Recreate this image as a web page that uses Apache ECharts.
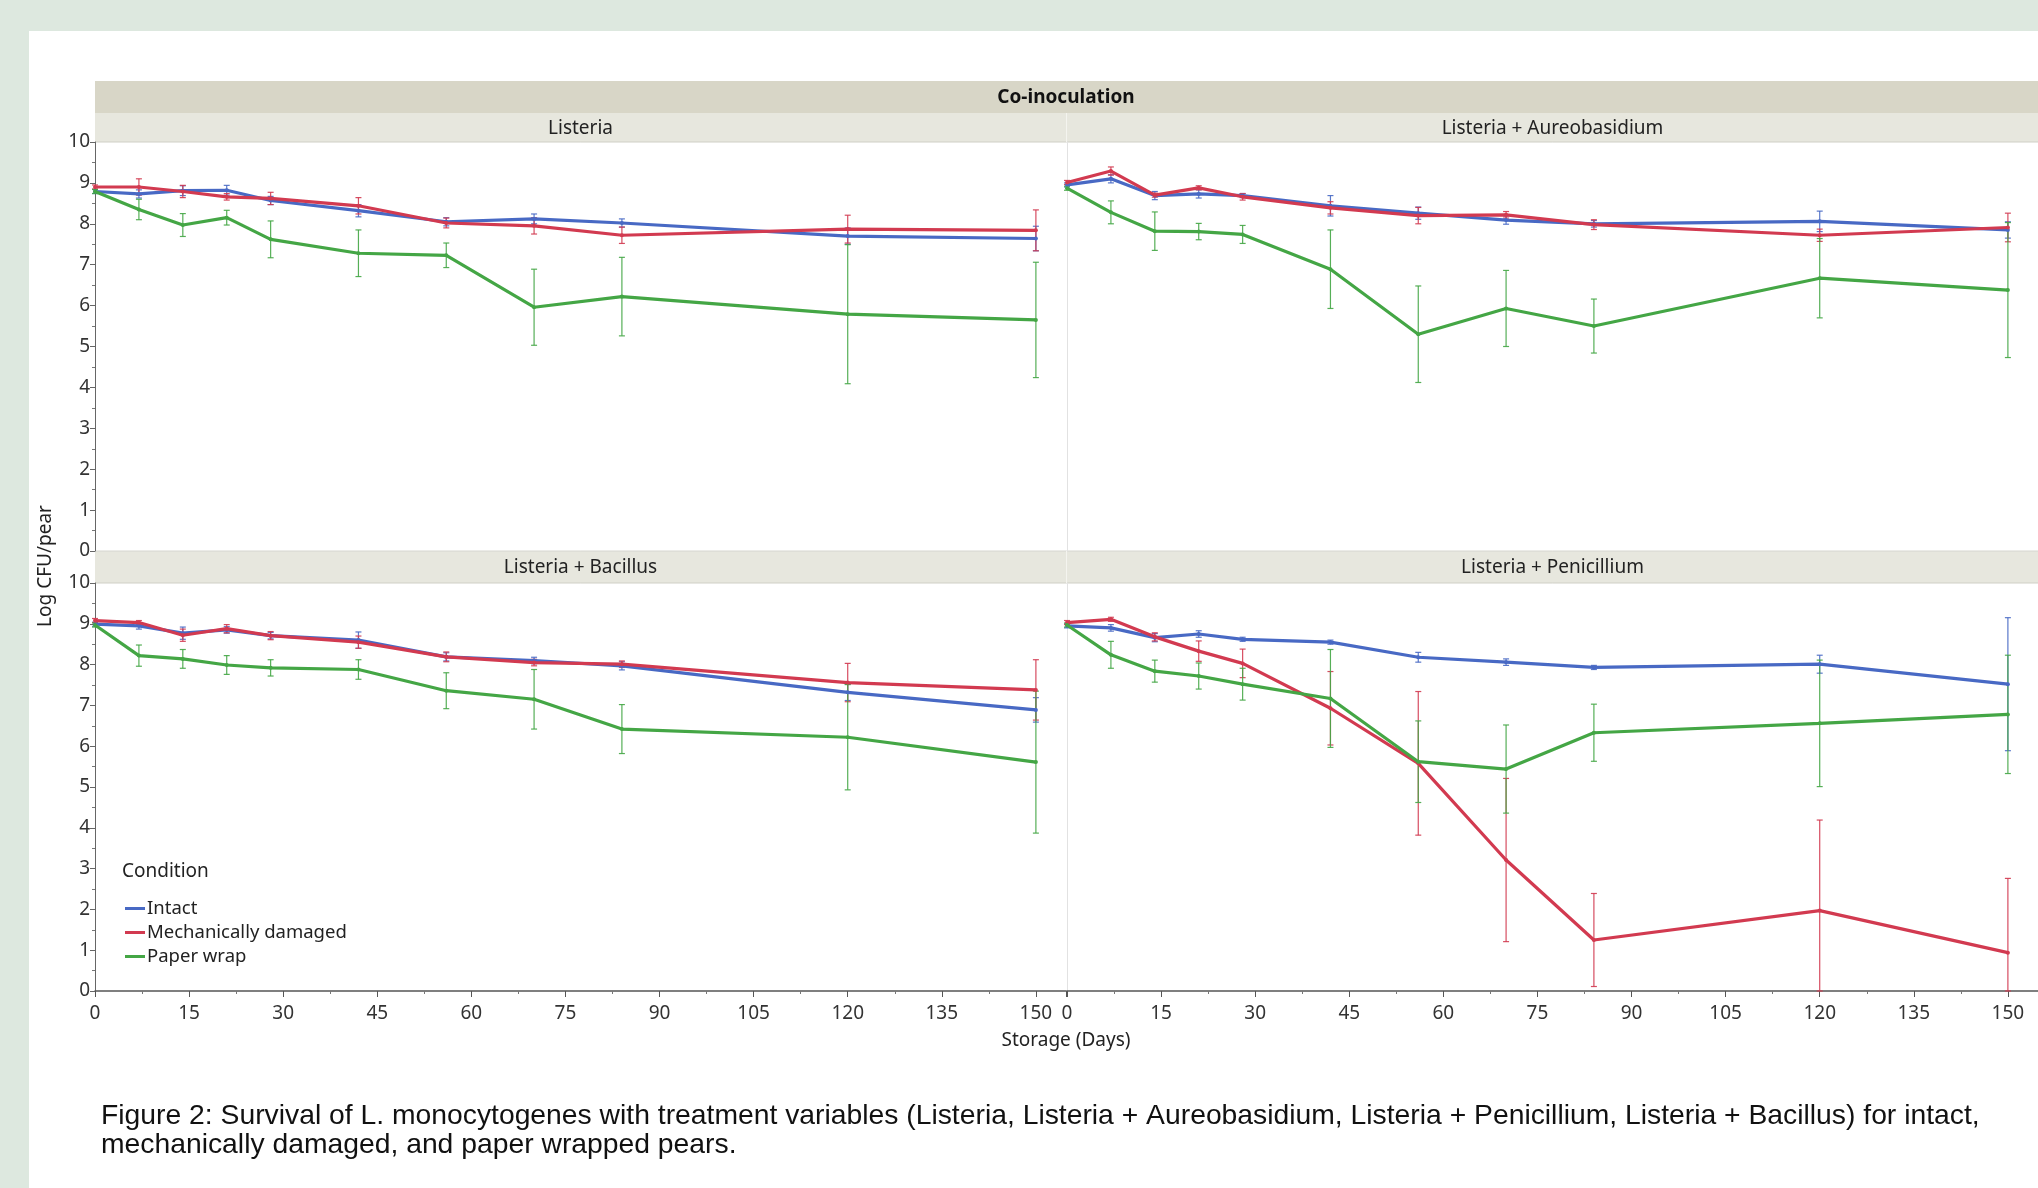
<!DOCTYPE html>
<html>
<head>
<meta charset="utf-8">
<script src="https://cdn.jsdelivr.net/npm/echarts@6/dist/echarts.min.js"></script>
<style>
html,body{margin:0;padding:0;background:#dde8df;}
#chart{width:2038px;height:1188px;}
</style>
</head>
<body>
<div id="chart"></div>
<script>
// ---------------- DATA ----------------
const days = [0, 7, 14, 21, 28, 42, 56, 70, 84, 120, 150];
const conditions = ['Intact', 'Mechanically damaged', 'Paper wrap'];
const panelTitles = ['Listeria', 'Listeria + Aureobasidium', 'Listeria + Bacillus', 'Listeria + Penicillium'];
const headerTitle = 'Co-inoculation';
const yAxisTitle = 'Log CFU/pear';
const xAxisTitle = 'Storage (Days)';
const legendTitle = 'Condition';
const captionLines = [
  'Figure 2: Survival of L. monocytogenes with treatment variables (Listeria, Listeria + Aureobasidium, Listeria + Penicillium, Listeria + Bacillus) for intact,',
  'mechanically damaged, and paper wrapped pears.'
];

// Listeria
const listeriaIntact     = [8.79, 8.73, 8.81, 8.82, 8.57, 8.32, 8.05, 8.12, 8.02, 7.70, 7.64];
const listeriaIntactErr  = [0.05, 0.10, 0.12, 0.12, 0.10, 0.15, 0.10, 0.12, 0.10, 0.20, 0.30];
const listeriaDamaged    = [8.90, 8.90, 8.79, 8.66, 8.62, 8.44, 8.02, 7.95, 7.72, 7.87, 7.84];
const listeriaDamagedErr = [0.05, 0.20, 0.15, 0.08, 0.15, 0.20, 0.12, 0.20, 0.20, 0.34, 0.50];
const listeriaPaper      = [8.79, 8.35, 7.97, 8.15, 7.62, 7.28, 7.23, 5.96, 6.22, 5.79, 5.65];
const listeriaPaperErr   = [0.05, 0.25, 0.28, 0.18, 0.45, 0.57, 0.30, 0.93, 0.96, 1.70, 1.41];

// Listeria + Aureobasidium
const aureoIntact     = [8.95, 9.10, 8.69, 8.73, 8.69, 8.44, 8.26, 8.09, 8.00, 8.06, 7.85];
const aureoIntactErr  = [0.05, 0.10, 0.10, 0.10, 0.05, 0.25, 0.15, 0.10, 0.08, 0.25, 0.20];
const aureoDamaged    = [9.01, 9.29, 8.70, 8.88, 8.66, 8.39, 8.20, 8.22, 7.98, 7.72, 7.91];
const aureoDamagedErr = [0.05, 0.10, 0.05, 0.05, 0.08, 0.15, 0.20, 0.08, 0.12, 0.15, 0.35];
const aureoPaper      = [8.87, 8.28, 7.82, 7.81, 7.74, 6.89, 5.30, 5.93, 5.50, 6.67, 6.38];
const aureoPaperErr   = [0.05, 0.28, 0.47, 0.20, 0.22, 0.96, 1.18, 0.93, 0.66, 0.97, 1.65];

// Listeria + Bacillus
const bacillusIntact     = [8.99, 8.95, 8.77, 8.85, 8.71, 8.60, 8.19, 8.10, 7.97, 7.32, 6.89];
const bacillusIntactErr  = [0.05, 0.08, 0.15, 0.08, 0.08, 0.20, 0.10, 0.08, 0.10, 0.20, 0.30];
const bacillusDamaged    = [9.08, 9.03, 8.72, 8.88, 8.71, 8.55, 8.19, 8.05, 8.01, 7.56, 7.38];
const bacillusDamagedErr = [0.05, 0.05, 0.15, 0.10, 0.10, 0.15, 0.12, 0.08, 0.08, 0.47, 0.74];
const bacillusPaper      = [8.97, 8.22, 8.14, 7.99, 7.92, 7.88, 7.36, 7.15, 6.42, 6.22, 5.61];
const bacillusPaperErr   = [0.05, 0.26, 0.23, 0.23, 0.20, 0.24, 0.44, 0.73, 0.60, 1.29, 1.74];

// Listeria + Penicillium
const penIntact     = [8.95, 8.90, 8.66, 8.75, 8.62, 8.55, 8.18, 8.06, 7.93, 8.01, 7.52];
const penIntactErr  = [0.05, 0.08, 0.10, 0.08, 0.05, 0.05, 0.12, 0.08, 0.05, 0.22, 1.63];
const penDamaged    = [9.03, 9.11, 8.68, 8.33, 8.03, 6.93, 5.58, 3.21, 1.25, 1.97, 0.94];
const penDamagedErr = [0.05, 0.05, 0.10, 0.25, 0.35, 0.90, 1.76, 2.00, 1.14, 2.22, 1.82];
const penPaper      = [8.97, 8.24, 7.84, 7.72, 7.52, 7.17, 5.62, 5.44, 6.33, 6.56, 6.78];
const penPaperErr   = [0.05, 0.33, 0.27, 0.32, 0.39, 1.20, 1.00, 1.08, 0.70, 1.55, 1.45];

// ---------------- STYLE / LAYOUT ----------------
const colors = ['#4869c4', '#d23a50', '#44a645'];
const uiFont = 'Noto Sans';
const panelData = [
  [[listeriaIntact, listeriaIntactErr], [listeriaDamaged, listeriaDamagedErr], [listeriaPaper, listeriaPaperErr]],
  [[aureoIntact, aureoIntactErr], [aureoDamaged, aureoDamagedErr], [aureoPaper, aureoPaperErr]],
  [[bacillusIntact, bacillusIntactErr], [bacillusDamaged, bacillusDamagedErr], [bacillusPaper, bacillusPaperErr]],
  [[penIntact, penIntactErr], [penDamaged, penDamagedErr], [penPaper, penPaperErr]]
];
const L = 95, PW = 971, R0 = 1067;
const grids = [
  {left: L,  top: 142, width: PW, height: 409},
  {left: R0, top: 142, width: PW, height: 409},
  {left: L,  top: 583, width: PW, height: 408},
  {left: R0, top: 583, width: PW, height: 408}
];

function renderErrorBar(params, api) {
  const x = api.value(0), lo = api.value(1), hi = api.value(2);
  const p1 = api.coord([x, hi]);
  const p2 = api.coord([x, lo]);
  const cap = 3;
  const style = {stroke: api.visual('color'), lineWidth: 1.2, opacity: 0.9};
  return {type: 'group', children: [
    {type: 'line', shape: {x1: p1[0], y1: p1[1], x2: p2[0], y2: p2[1]}, style: style},
    {type: 'line', shape: {x1: p1[0] - cap, y1: p1[1], x2: p1[0] + cap, y2: p1[1]}, style: style},
    {type: 'line', shape: {x1: p2[0] - cap, y1: p2[1], x2: p2[0] + cap, y2: p2[1]}, style: style}
  ]};
}

const xAxes = grids.map((g, i) => {
  const bottom = i >= 2;
  return {
    type: 'value', gridIndex: i, min: 0, max: 154.8, interval: 15,
    axisLine: {show: bottom, onZero: false, lineStyle: {color: '#555', width: 1.5}},
    axisTick: {show: bottom, length: 6, lineStyle: {color: '#555'}},
    minorTick: {show: bottom, splitNumber: 2, length: 3, lineStyle: {color: '#777'}},
    axisLabel: {show: bottom, showMaxLabel: false, fontSize: 19, color: '#333', fontFamily: uiFont, margin: 13},
    splitLine: {show: false}
  };
});
const yAxes = grids.map((g, i) => {
  const leftSide = (i % 2 === 0);
  return {
    type: 'value', gridIndex: i, min: 0, max: 10, interval: 1,
    axisLine: {show: true, lineStyle: {color: leftSide ? '#666' : '#e2e2e2', width: 1}},
    axisTick: {show: leftSide, length: 5, lineStyle: {color: '#666'}},
    minorTick: {show: leftSide, splitNumber: 2, length: 3, lineStyle: {color: '#777'}},
    axisLabel: {show: leftSide, fontSize: 19, color: '#333', fontFamily: uiFont, margin: 5},
    splitLine: {show: false}
  };
});

const series = [];
panelData.forEach((panel, pi) => {
  panel.forEach((pair, ci) => {
    const vals = pair[0];
    series.push({
      type: 'line', name: conditions[ci], xAxisIndex: pi, yAxisIndex: pi,
      data: days.map((d, k) => [d, vals[k]]),
      symbol: 'circle', symbolSize: 4, showSymbol: true,
      lineStyle: {color: colors[ci], width: 3.2},
      itemStyle: {color: colors[ci]},
      z: 3 + ci, animation: false
    });
  });
  panel.forEach((pair, ci) => {
    const vals = pair[0], errs = pair[1];
    series.push({
      type: 'custom', name: conditions[ci], xAxisIndex: pi, yAxisIndex: pi,
      data: days.map((d, k) => [d, Math.max(0, vals[k] - errs[k]), vals[k] + errs[k]]),
      encode: {x: 0, y: [1, 2]},
      renderItem: renderErrorBar,
      itemStyle: {color: colors[ci]},
      z: 2, animation: false
    });
  });
});

const headerFill = '#d8d6c7', subFill = '#e7e7de';
const graphic = [
  {type: 'rect', shape: {x: 29, y: 31, width: 2009, height: 1157}, style: {fill: '#ffffff'}, z: -10},
  {type: 'rect', shape: {x: L, y: 81, width: 2038 - L, height: 32}, style: {fill: headerFill}, z: -5},
  {type: 'rect', shape: {x: L, y: 113, width: 2038 - L, height: 29}, style: {fill: subFill}, z: -5},
  {type: 'rect', shape: {x: L, y: 551, width: 2038 - L, height: 32}, style: {fill: subFill}, z: -5},
  {type: 'line', shape: {x1: L, y1: 142, x2: 2038, y2: 142}, style: {stroke: '#cfcfc6', lineWidth: 1}, z: -4},
  {type: 'line', shape: {x1: L, y1: 583, x2: 2038, y2: 583}, style: {stroke: '#cfcfc6', lineWidth: 1}, z: -4},
  {type: 'line', shape: {x1: L, y1: 551, x2: 2038, y2: 551}, style: {stroke: '#d6d6cf', lineWidth: 1}, z: -4},
  {type: 'line', shape: {x1: 1066.5, y1: 113, x2: 1066.5, y2: 142}, style: {stroke: '#f4f4ef', lineWidth: 1}, z: -4},
  {type: 'line', shape: {x1: 1066.5, y1: 551, x2: 1066.5, y2: 583}, style: {stroke: '#f4f4ef', lineWidth: 1}, z: -4},
  {type: 'text', x: 1066, y: 98, style: {text: headerTitle, font: 'bold 19px "Noto Sans"', fill: '#111', textAlign: 'center', textVerticalAlign: 'middle'}},
  {type: 'text', x: L + PW / 2, y: 129, style: {text: panelTitles[0], font: '19px "Noto Sans"', fill: '#222', textAlign: 'center', textVerticalAlign: 'middle'}},
  {type: 'text', x: R0 + PW / 2, y: 129, style: {text: panelTitles[1], font: '19px "Noto Sans"', fill: '#222', textAlign: 'center', textVerticalAlign: 'middle'}},
  {type: 'text', x: L + PW / 2, y: 568, style: {text: panelTitles[2], font: '19px "Noto Sans"', fill: '#222', textAlign: 'center', textVerticalAlign: 'middle'}},
  {type: 'text', x: R0 + PW / 2, y: 568, style: {text: panelTitles[3], font: '19px "Noto Sans"', fill: '#222', textAlign: 'center', textVerticalAlign: 'middle'}},
  {type: 'text', x: 46, y: 566, rotation: Math.PI / 2, style: {text: yAxisTitle, font: '19px "Noto Sans"', fill: '#222', textAlign: 'center', textVerticalAlign: 'middle'}},
  {type: 'text', x: 1066, y: 1041, style: {text: xAxisTitle, font: '19px "Noto Sans"', fill: '#222', textAlign: 'center', textVerticalAlign: 'middle'}},
  {type: 'text', x: 122, y: 872, style: {text: legendTitle, font: '19px "Noto Sans"', fill: '#222', textAlign: 'left', textVerticalAlign: 'middle'}},
  {type: 'text', x: 101, y: 1116, style: {text: captionLines[0], font: '28.3px "Liberation Sans"', fill: '#111', textAlign: 'left', textVerticalAlign: 'middle'}},
  {type: 'text', x: 101, y: 1145, style: {text: captionLines[1], font: '28.3px "Liberation Sans"', fill: '#111', textAlign: 'left', textVerticalAlign: 'middle'}}
];

const chart = echarts.init(document.getElementById('chart'), null, {renderer: 'canvas'});
chart.setOption({
  backgroundColor: '#dde8df',
  animation: false,
  grid: grids,
  xAxis: xAxes,
  yAxis: yAxes,
  legend: {
    data: conditions, orient: 'vertical', left: 120, top: 894,
    icon: 'rect', itemWidth: 20, itemHeight: 3, itemGap: 5,
    textStyle: {fontSize: 18.5, color: '#222', fontFamily: uiFont, padding: [0, 0, 0, -3]},
    selectedMode: false
  },
  graphic: graphic,
  series: series
});
</script>
</body>
</html>
